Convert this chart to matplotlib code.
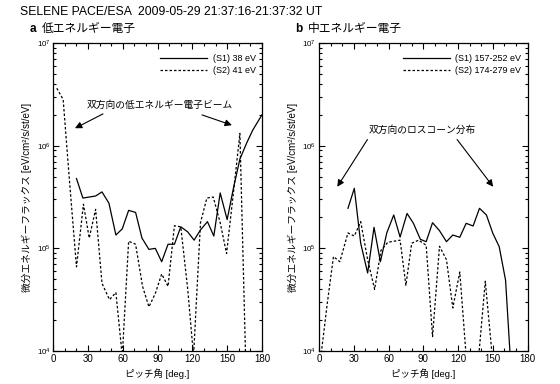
import numpy as np
import matplotlib
matplotlib.use('Agg')
import matplotlib.pyplot as plt
from matplotlib.ticker import MultipleLocator, LogLocator, NullFormatter

plt.rcParams['font.family'] = ['Liberation Sans', 'Noto Sans CJK JP', 'DejaVu Sans']
plt.rcParams['mathtext.fontset'] = 'custom'
plt.rcParams['mathtext.rm'] = 'Liberation Sans'

# --- data: pitch angle [deg] and log10 of flux ---
a_s1_x = [20, 25.5, 31, 36.5, 42, 48, 54, 59.5, 65, 71, 76.5, 82.5, 88, 93.5, 99,
          104.5, 110, 116, 121.5, 127, 133, 138.5, 144, 150, 155.5, 161, 167, 172, 180]
a_s1_log = [5.68, 5.49, 5.50, 5.51, 5.55, 5.44, 5.13, 5.19, 5.37, 5.35, 5.10, 4.99, 5.00,
            4.87, 5.04, 5.04, 5.21, 5.16, 5.08, 5.18, 5.26, 5.12, 5.54, 5.28, 5.59, 5.87,
            6.03, 6.15, 6.30]

a_s2_x = [3, 8.5, 14, 20, 26, 31, 36.5, 42, 48.5, 54, 59.5, 65, 71, 77, 82.5, 88, 93.5,
          99, 104.5, 110, 116, 121, 127, 132.5, 138, 144, 149.5, 155.5, 161, 166]
a_s2_log = [6.56, 6.45, 5.65, 4.82, 5.43, 5.10, 5.38, 4.66, 4.50, 4.57, 3.95, 5.07, 5.04,
            4.63, 4.43, 4.56, 4.75, 4.63, 5.22, 5.21, 4.60, 3.95, 5.25, 5.49, 5.50, 5.25,
            4.95, 5.55, 6.12, 3.90]

b_s1_x = [25, 30.5, 36, 42, 47.5, 53, 58.5, 64.5, 70, 76, 81.5, 87.5, 92.5, 98, 104, 110,
          115.5, 121.5, 127, 133, 138.5, 144.5, 150, 155.5, 161, 165]
b_s1_log = [5.39, 5.585, 5.05, 4.76, 5.205, 4.87, 5.15, 5.325, 5.11, 5.34, 5.244, 5.088,
            5.065, 5.25, 5.172, 5.065, 5.13, 5.108, 5.244, 5.218, 5.39, 5.325, 5.147,
            5.017, 4.69, 3.95]

b_s2_x = [2, 7, 12.5, 18, 25, 30.5, 36, 42, 48, 53.5, 59.5, 65, 70, 75, 80, 86, 92.5, 98,
          104, 110, 115.5, 121.5, 127, 133, 138, 143.5, 149.5]
b_s2_log = [3.98, 4.45, 4.92, 4.87, 5.15, 5.12, 5.26, 4.89, 4.60, 4.98, 5.06, 5.07, 5.08,
            4.64, 5.05, 5.08, 5.03, 4.14, 5.02, 4.89, 4.42, 4.77, 3.95, 3.90, 3.97, 4.68, 3.95]

panels = [
    dict(tag='a', title='低エネルギー電子',
         s1=(a_s1_x, a_s1_log, '(S1) 38 eV'), s2=(a_s2_x, a_s2_log, '(S2) 41 eV'),
         note='双方向の低エネルギー電子ビーム', note_xy=(92, 6.40),
         arrows=[((42.9, 6.31), (18.7, 6.17)), ((128.3, 6.30), (154.1, 6.20))]),
    dict(tag='b', title='中エネルギー電子',
         s1=(b_s1_x, b_s1_log, '(S1) 157-252 eV'), s2=(b_s2_x, b_s2_log, '(S2) 174-279 eV'),
         note='双方向のロスコーン分布', note_xy=(89, 6.15),
         arrows=[((41.8, 6.06), (15.8, 5.60)), ((119.2, 6.06), (150.3, 5.60))]),
]

fig = plt.figure(figsize=(5.6, 3.84), dpi=100)
fig.text(0.036, 0.968, 'SELENE PACE/ESA  2009-05-29 21:37:16-21:37:32 UT',
         fontsize=8.8, va='center', ha='left')

lefts = [0.0952, 0.5696]
for left, p in zip(lefts, panels):
    ax = fig.add_axes([left, 0.0859, 0.3725, 0.802])
    x1, l1, lab1 = p['s1']
    x2, l2, lab2 = p['s2']
    ax.plot(x1, 10 ** np.array(l1), 'k-', lw=0.9, label=lab1)
    ax.plot(x2, 10 ** np.array(l2), 'k', ls=(0, (2, 1.6)), lw=0.9, label=lab2)
    ax.set_yscale('log')
    ax.set_xlim(0, 180)
    ax.set_ylim(1e4, 1e7)
    ax.xaxis.set_major_locator(MultipleLocator(30))
    ax.xaxis.set_minor_locator(MultipleLocator(10))
    ax.yaxis.set_major_locator(LogLocator(base=10, numticks=10))
    ax.yaxis.set_minor_locator(LogLocator(base=10, subs=np.arange(2, 10), numticks=10))
    ax.yaxis.set_minor_formatter(NullFormatter())
    ax.tick_params(which='both', direction='in', top=True, right=True, labelsize=7,
                   width=0.8, pad=2)
    ax.tick_params(which='major', length=4)
    ax.tick_params(which='minor', length=2.5)
    ax.tick_params(axis='y', labelsize=5.8)
    for s in ax.spines.values():
        s.set_linewidth(0.9)
    ax.set_xlabel('ピッチ角 [deg.]', fontsize=6.8, labelpad=3)
    ax.set_ylabel('微分エネルギーフラックス [eV/cm²/s/st/eV]', fontsize=7, labelpad=3)
    ax.legend(loc='upper right', bbox_to_anchor=(1.0, 0.985), frameon=False, fontsize=6.5,
              handlelength=5.2, handletextpad=0.6, labelspacing=0.35, borderaxespad=0.3)
    ax.text(p['note_xy'][0], 10 ** p['note_xy'][1], p['note'], fontsize=7,
            ha='center', va='center')
    for tail, head in p['arrows']:
        ax.annotate('', xy=(head[0], 10 ** head[1]), xytext=(tail[0], 10 ** tail[1]),
                    arrowprops=dict(arrowstyle='-|>', color='k', lw=0.8,
                                    mutation_scale=10, shrinkA=0, shrinkB=0))
    fig.text(left - 0.043, 0.925, p['tag'], fontsize=8.5, fontweight='bold',
             va='center', ha='left')
    fig.text(left - 0.020, 0.925, p['title'], fontsize=8.5, va='center', ha='left')

fig.savefig('out.png', dpi=100)
